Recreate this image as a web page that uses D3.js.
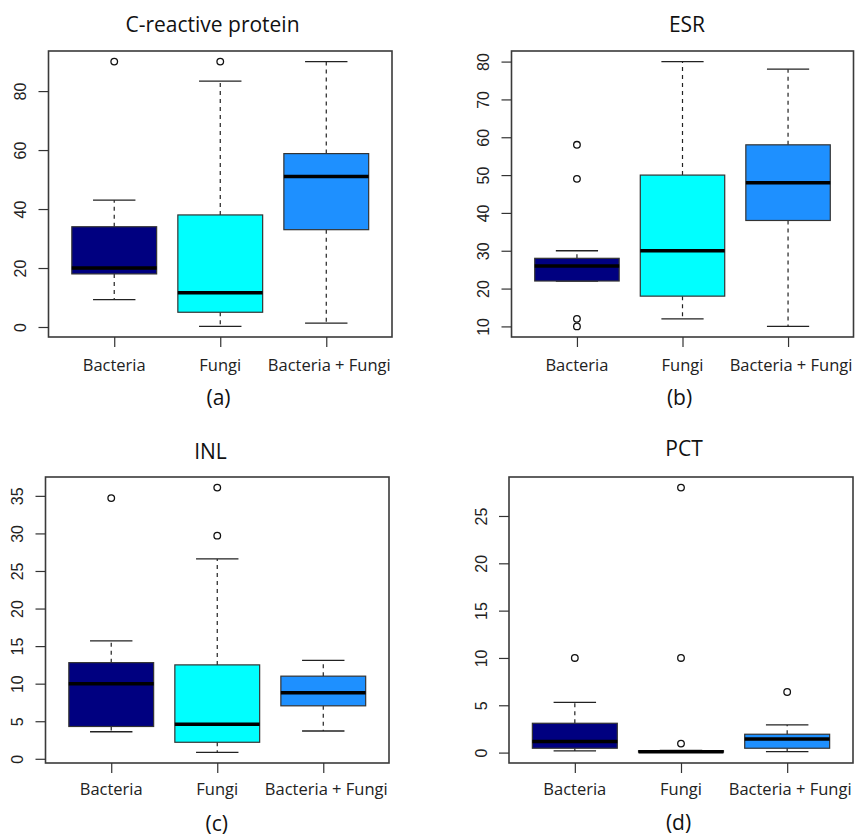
<!DOCTYPE html>
<html>
<head>
<meta charset="utf-8">
<script src="https://cdn.jsdelivr.net/npm/d3@7"></script>
<style>
  body { margin: 0; background: #fff; }
  svg { display: block; }
</style>
</head>
<body>
<div id="chart"></div>
<script>
var groups = ["Bacteria", "Fungi", "Bacteria + Fungi"];
var fills = ["#000080", "#00FFFF", "#1E90FF"];

// five numbers per group: lower whisker, Q1, median, Q3, upper whisker
var crpStats = [[9.3, 18, 20, 34, 43], [0.2, 5, 11.6, 38, 83.4], [1.3, 33, 51, 58.8, 90]];
var crpOut = [[90], [90], []];
var crpTicks = [0, 20, 40, 60, 80];

var esrStats = [[22, 22, 26, 28, 30], [12, 18, 30, 50, 80], [10, 38, 48, 58, 78]];
var esrOut = [[58, 49, 12, 10], [], []];
var esrTicks = [10, 20, 30, 40, 50, 60, 70, 80];

var inlStats = [[3.6, 4.3, 10, 12.8, 15.7], [0.85, 2.2, 4.6, 12.5, 26.6], [3.7, 7.05, 8.8, 11, 13.1]];
var inlOut = [[34.7], [36.1, 29.7], []];
var inlTicks = [0, 5, 10, 15, 20, 25, 30, 35];

var pctStats = [[0.18, 0.46, 1.16, 3.1, 5.3], [0.02, 0.05, 0.1, 0.2, 0.22], [0.1, 0.46, 1.44, 1.94, 2.92]];
var pctOut = [[10], [28, 10, 0.95], [6.4]];
var pctTicks = [0, 5, 10, 15, 20, 25];

var w = 855, h = 839;

var svg = d3.select("#chart").append("svg")
  .attr("width", w)
  .attr("height", h);

var panels = [
  {title: "C-reactive protein", tag: "(a)", stats: crpStats, out: crpOut, ticks: crpTicks,
   left: 48.5, right: 392, top: 51, bottom: 337, titleX: 212.5, titleY: 32, tagX: 218.5, tagY: 405, labY: 370.5},
  {title: "ESR", tag: "(b)", stats: esrStats, out: esrOut, ticks: esrTicks,
   left: 511.5, right: 853.5, top: 51, bottom: 337, titleX: 687, titleY: 32, tagX: 679.5, tagY: 405, labY: 370.5},
  {title: "INL", tag: "(c)", stats: inlStats, out: inlOut, ticks: inlTicks,
   left: 45.5, right: 389, top: 477, bottom: 763, titleX: 210.5, titleY: 458.5, tagX: 216.7, tagY: 831, labY: 795},
  {title: "PCT", tag: "(d)", stats: pctStats, out: pctOut, ticks: pctTicks,
   left: 509, right: 853, top: 477, bottom: 763, titleX: 684, titleY: 456, tagX: 678.5, tagY: 830, labY: 795}
];

panels.forEach(function(p) {
  var g = svg.append("g");

  // R style: data range stretched by 4% on each side
  var all = d3.merge(p.stats.concat(p.out));
  var lo = d3.min(all), hi = d3.max(all);
  var pad = (hi - lo) * 0.04;

  var yScale = d3.scaleLinear()
    .domain([lo - pad, hi + pad])
    .range([p.bottom, p.top]);

  var xScale = d3.scaleLinear()
    .domain([0.38, 3.62])
    .range([p.left, p.right]);

  var bw = xScale(1.4) - xScale(0.6);
  var sw = bw / 2;

  var boxes = g.selectAll(".bx")
    .data(p.stats)
    .enter()
    .append("g")
    .attr("class", "bx");

  // dashed whiskers
  boxes.append("line")
    .attr("x1", function(d, i) { return xScale(i + 1); })
    .attr("x2", function(d, i) { return xScale(i + 1); })
    .attr("y1", function(d) { return yScale(d[3]); })
    .attr("y2", function(d) { return yScale(d[4]); })
    .attr("stroke", "#222")
    .attr("stroke-width", 1.2)
    .attr("stroke-dasharray", "4,4");

  boxes.append("line")
    .attr("x1", function(d, i) { return xScale(i + 1); })
    .attr("x2", function(d, i) { return xScale(i + 1); })
    .attr("y1", function(d) { return yScale(d[1]); })
    .attr("y2", function(d) { return yScale(d[0]); })
    .attr("stroke", "#222")
    .attr("stroke-width", 1.2)
    .attr("stroke-dasharray", "4,4");

  // staples
  [0, 4].forEach(function(k) {
    boxes.append("line")
      .attr("x1", function(d, i) { return xScale(i + 1) - sw / 2; })
      .attr("x2", function(d, i) { return xScale(i + 1) + sw / 2; })
      .attr("y1", function(d) { return yScale(d[k]); })
      .attr("y2", function(d) { return yScale(d[k]); })
      .attr("stroke", "#222")
      .attr("stroke-width", 1.3);
  });

  boxes.append("rect")
    .attr("x", function(d, i) { return xScale(i + 1) - bw / 2; })
    .attr("y", function(d) { return yScale(d[3]); })
    .attr("width", bw)
    .attr("height", function(d) { return Math.max(0.5, yScale(d[1]) - yScale(d[3])); })
    .attr("fill", function(d, i) { return fills[i]; })
    .attr("stroke", "#333")
    .attr("stroke-width", 1.2);

  boxes.append("line")
    .attr("x1", function(d, i) { return xScale(i + 1) - bw / 2; })
    .attr("x2", function(d, i) { return xScale(i + 1) + bw / 2; })
    .attr("y1", function(d) { return yScale(d[2]); })
    .attr("y2", function(d) { return yScale(d[2]); })
    .attr("stroke", "#000")
    .attr("stroke-width", 3.5);

  // outliers
  var pts = [];
  p.out.forEach(function(arr, i) {
    arr.forEach(function(v) { pts.push([i + 1, v]); });
  });

  g.selectAll("circle")
    .data(pts)
    .enter()
    .append("circle")
    .attr("cx", function(d) { return xScale(d[0]); })
    .attr("cy", function(d) { return yScale(d[1]); })
    .attr("r", 3.3)
    .attr("fill", "none")
    .attr("stroke", "#111")
    .attr("stroke-width", 1.3);

  // frame
  g.append("rect")
    .attr("x", p.left)
    .attr("y", p.top)
    .attr("width", p.right - p.left)
    .attr("height", p.bottom - p.top)
    .attr("fill", "none")
    .attr("stroke", "#3a3a3a")
    .attr("stroke-width", 1.6);

  var yAxis = d3.axisLeft()
    .scale(yScale)
    .tickValues(p.ticks)
    .tickSize(10);

  var ya = g.append("g")
    .attr("transform", "translate(" + p.left + ",0)")
    .call(yAxis);
  ya.select(".domain").remove();
  ya.selectAll(".tick line").attr("stroke", "#333").attr("stroke-width", 1.2);
  ya.selectAll(".tick text")
    .attr("x", 0)
    .attr("y", 0)
    .attr("dy", "0.35em")
    .attr("text-anchor", "middle")
    .attr("transform", "translate(-28,0) rotate(-90)")
    .attr("fill", "#222")
    .style("font-family", "'Liberation Sans', Arial, sans-serif")
    .style("font-size", "16px");

  var xAxis = d3.axisBottom()
    .scale(xScale)
    .tickValues([1, 2, 3])
    .tickSize(10)
    .tickFormat(function(d) { return ""; });

  var xa = g.append("g")
    .attr("transform", "translate(0," + p.bottom + ")")
    .call(xAxis);
  xa.select(".domain").remove();
  xa.selectAll(".tick line").attr("stroke", "#333").attr("stroke-width", 1.2);

  g.selectAll(".cat")
    .data(groups)
    .enter()
    .append("text")
    .attr("class", "cat")
    .attr("x", function(d, i) { return xScale(i + 1) + (i == 2 ? 3 : 0); })
    .attr("y", p.labY)
    .attr("text-anchor", "middle")
    .attr("fill", "#222")
    .style("font-family", "'Open Sans', sans-serif")
    .style("font-size", "16.5px")
    .text(function(d) { return d; });

  g.append("text")
    .attr("x", p.titleX)
    .attr("y", p.titleY)
    .attr("text-anchor", "middle")
    .attr("fill", "#111")
    .style("font-family", "'Open Sans', sans-serif")
    .style("font-size", "21px")
    .text(p.title);

  g.append("text")
    .attr("x", p.tagX)
    .attr("y", p.tagY)
    .attr("text-anchor", "middle")
    .attr("fill", "#111")
    .style("font-family", "'Open Sans', sans-serif")
    .style("font-size", "21px")
    .text(p.tag);
});
</script>
</body>
</html>
